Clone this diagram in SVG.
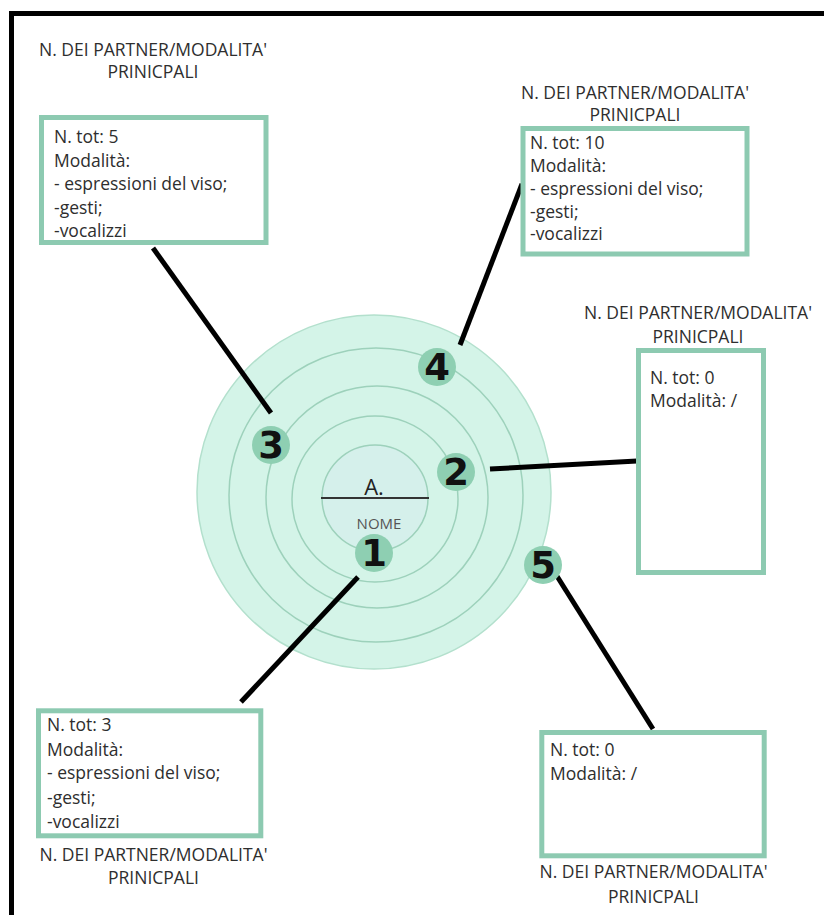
<svg xmlns="http://www.w3.org/2000/svg" width="824" height="915" viewBox="0 0 824 915">
<style>
.t{font-family:"Open Sans","DejaVu Sans",sans-serif;font-size:17.5px;fill:#2e2e2e}
.h{font-family:"Open Sans","DejaVu Sans",sans-serif;font-size:17.5px;fill:#2e2e2e;text-anchor:middle}
.box{fill:#fff;stroke:#8dcab1;stroke-width:5}
.ring{fill:none;stroke:#9dd1bb;stroke-width:1.5}
.badge{fill:#8ecfb2}
.num{font-family:"DejaVu Sans",sans-serif;font-weight:bold;font-size:37px;fill:#111;text-anchor:middle}
.con{stroke:#000;stroke-width:5;stroke-linecap:butt}
</style>
<rect x="0" y="0" width="824" height="915" fill="#fff"/>
<rect x="11.5" y="13.5" width="900" height="1000" fill="none" stroke="#000" stroke-width="5"/>
<g id="target">
<circle cx="374" cy="492" r="177" fill="#d4f4e8" stroke="#b3e0cd" stroke-width="1.5"/>
<circle class="ring" cx="376" cy="495" r="147"/>
<circle class="ring" cx="377" cy="497" r="111"/>
<circle class="ring" cx="375" cy="499" r="83"/>
<circle cx="375" cy="498" r="53" fill="#d5f0eb" stroke="#9dd1bb" stroke-width="1.5"/>
<line x1="321" y1="498" x2="429" y2="498" stroke="#333" stroke-width="2"/>
<text x="374" y="495" style="font-family:'Open Sans','DejaVu Sans',sans-serif;font-size:22px;fill:#222;text-anchor:middle">A.</text>
<text x="379" y="528.5" style="font-family:'Open Sans','DejaVu Sans',sans-serif;font-size:15px;fill:#555;text-anchor:middle">NOME</text>
</g>
<g id="connectors">
<line class="con" x1="153" y1="248" x2="271" y2="413"/>
<line class="con" x1="522" y1="184" x2="460" y2="345"/>
<line class="con" x1="490" y1="469" x2="637" y2="461"/>
<line class="con" x1="358" y1="577" x2="241" y2="702"/>
<line class="con" x1="555" y1="573" x2="653" y2="729"/>
</g>
<g id="badge-1"><circle class="badge" cx="374" cy="553" r="19"/><text class="num" x="374" y="566">1</text></g>
<g id="badge-2"><circle class="badge" cx="456" cy="472" r="19"/><text class="num" x="456" y="485">2</text></g>
<g id="badge-3"><circle class="badge" cx="271" cy="445" r="19"/><text class="num" x="271" y="458">3</text></g>
<g id="badge-4"><circle class="badge" cx="437" cy="367" r="19"/><text class="num" x="437" y="380">4</text></g>
<g id="badge-5"><circle class="badge" cx="543" cy="565" r="19"/><text class="num" x="543" y="578">5</text></g>
<g id="box-3">
<text class="h" x="153" y="56">N. DEI PARTNER/MODALITA'</text>
<text class="h" x="153" y="78">PRINICPALI</text>
<rect class="box" x="41.5" y="117.5" width="224.5" height="125"/>
<text class="t" x="54" y="143">N. tot: 5</text>
<text class="t" x="54" y="166.5">Modalità:</text>
<text class="t" x="54" y="190">- espressioni del viso;</text>
<text class="t" x="54" y="213.5">-gesti;</text>
<text class="t" x="54" y="237">-vocalizzi</text>
</g>
<g id="box-4">
<text class="h" x="635" y="99">N. DEI PARTNER/MODALITA'</text>
<text class="h" x="635" y="121">PRINICPALI</text>
<rect class="box" x="523" y="128.5" width="224" height="125.5"/>
<text class="t" x="530" y="149">N. tot: 10</text>
<text class="t" x="530" y="172">Modalità:</text>
<text class="t" x="530" y="195">- espressioni del viso;</text>
<text class="t" x="530" y="217.5">-gesti;</text>
<text class="t" x="530" y="240">-vocalizzi</text>
</g>
<g id="box-2">
<text class="h" x="698" y="319">N. DEI PARTNER/MODALITA'</text>
<text class="h" x="698" y="343">PRINICPALI</text>
<rect class="box" x="638.5" y="350.5" width="125" height="222"/>
<text class="t" x="650" y="384">N. tot: 0</text>
<text class="t" x="650" y="407">Modalità: /</text>
</g>
<g id="box-1">
<rect class="box" x="38.5" y="710.8" width="222.3" height="125"/>
<text class="t" x="47" y="731">N. tot: 3</text>
<text class="t" x="47" y="755.5">Modalità:</text>
<text class="t" x="47" y="779">- espressioni del viso;</text>
<text class="t" x="47" y="803.5">-gesti;</text>
<text class="t" x="47" y="827.5">-vocalizzi</text>
<text class="h" x="153.5" y="861">N. DEI PARTNER/MODALITA'</text>
<text class="h" x="153.5" y="884">PRINICPALI</text>
</g>
<g id="box-5">
<rect class="box" x="541.8" y="732.5" width="222.4" height="123.3"/>
<text class="t" x="550" y="756">N. tot: 0</text>
<text class="t" x="550" y="779.5">Modalità: /</text>
<text class="h" x="653.5" y="878">N. DEI PARTNER/MODALITA'</text>
<text class="h" x="653.5" y="903">PRINICPALI</text>
</g>
</svg>
